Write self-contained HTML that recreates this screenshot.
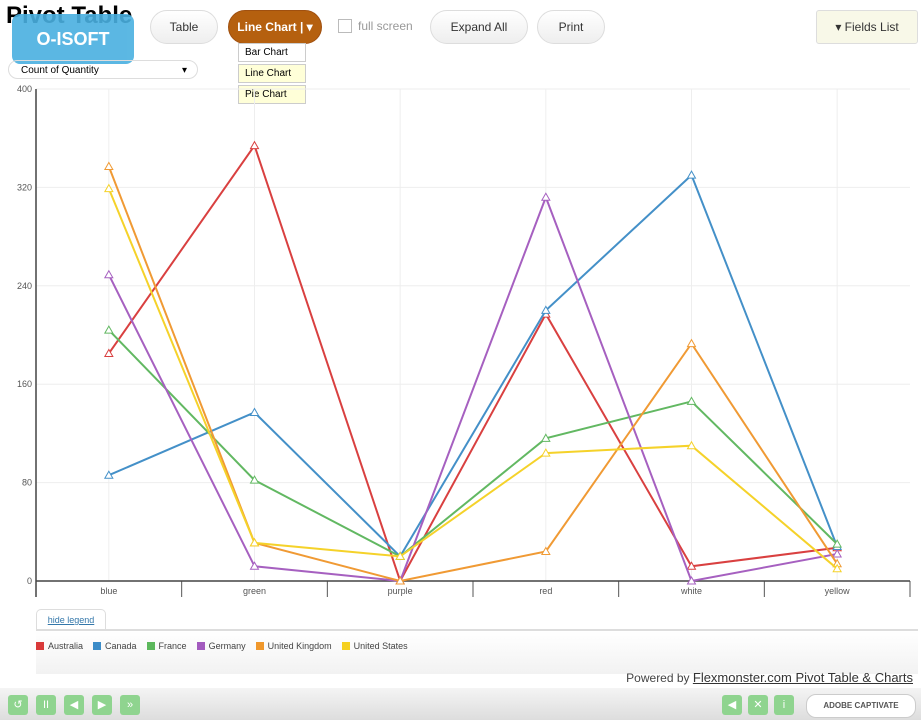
<!DOCTYPE html>
<html><head><meta charset="utf-8">
<style>
body{margin:0;width:921px;height:720px;overflow:hidden;background:#fff;font-family:"Liberation Sans",sans-serif;position:relative}
.abs{position:absolute}
.btn{position:absolute;top:10px;height:32px;border:1px solid #ddd;border-radius:17px;background:linear-gradient(#fff,#eee);font-size:12px;line-height:32px;text-align:center;color:#333}
.menu div{height:17px;line-height:17px;font-size:10px;padding-left:6px;border:1px solid #ccc;margin-bottom:2px;background:#fff}
.leg{display:inline-block;margin-right:10px;font-size:9px;color:#444}
.leg i{display:inline-block;width:8px;height:8px;margin-right:4px;vertical-align:-1px}
.cb{position:absolute;top:695px;width:20px;height:20px;background:#8fd48f;border-radius:3px;color:#fff;font-size:11px;text-align:center;line-height:20px}
</style></head><body>
<div class="abs" style="left:6px;top:2px;font-size:24px;font-weight:bold">Pivot Table</div>
<div class="abs" style="left:12px;top:14px;width:122px;height:50px;background:#4ab0e0;border-radius:8px;color:#fff;font-weight:bold;font-size:18px;text-align:center;line-height:50px;opacity:.9">O-ISOFT</div>
<div class="btn" style="left:150px;width:66px">Table</div>
<div class="btn" style="left:228px;width:92px;background:#b5600f;color:#fff;border-color:#a05010;font-weight:bold">Line Chart | ▾</div>
<div class="abs menu" style="left:238px;top:43px;width:68px">
<div>Bar Chart</div>
<div style="background:#ffffd8">Line Chart</div>
<div style="background:#ffffd8">Pie Chart</div></div>
<div class="abs" style="left:338px;top:19px;width:12px;height:12px;border:1px solid #bbb"></div>
<div class="abs" style="left:358px;top:19px;font-size:12px;color:#999">full screen</div>
<div class="btn" style="left:430px;width:96px">Expand All</div>
<div class="btn" style="left:537px;width:66px">Print</div>
<div class="btn" style="left:816px;width:100px;border-radius:3px;background:#f8f8e8">▾ Fields List</div>
<div class="abs" style="left:8px;top:60px;width:190px;height:19px;border:1px solid #ddd;border-radius:10px;font-size:10px;line-height:19px;padding-left:12px;box-sizing:border-box">Count of Quantity<span style="position:absolute;right:10px">▾</span></div>
<svg id="chart" class="abs" style="left:0;top:0" width="921" height="610"></svg>
<div class="abs" style="left:36px;top:609px;width:68px;height:20px;border:1px solid #ddd;border-bottom:none;border-radius:5px 5px 0 0;font-size:9px;color:#37a;text-decoration:underline;text-align:center;line-height:20px">hide legend</div>
<div class="abs" style="left:36px;top:629px;width:882px;height:38px;border-top:2px solid #ddd;background:linear-gradient(#fff,#f2f2f2);padding:5px 0 0 0">
<span class="leg"><i style="background:#d93a3a"></i>Australia</span><span class="leg"><i style="background:#3c8cc8"></i>Canada</span><span class="leg"><i style="background:#5cb85c"></i>France</span><span class="leg"><i style="background:#a35bbf"></i>Germany</span><span class="leg"><i style="background:#f0982c"></i>United Kingdom</span><span class="leg"><i style="background:#f5d020"></i>United States</span></div>
<div class="abs" style="right:8px;top:670px;font-size:12px;color:#444">Powered by <u style="color:#333;font-size:13px">Flexmonster.com Pivot Table &amp; Charts</u></div>
<div class="abs" style="left:0;top:688px;width:921px;height:32px;background:linear-gradient(#f4f4f4,#ddd)"></div>
<div class="cb" style="left:8px">↺</div>
<div class="cb" style="left:36px">II</div>
<div class="cb" style="left:64px">◀</div>
<div class="cb" style="left:92px">▶</div>
<div class="cb" style="left:120px">»</div>
<div class="cb" style="left:722px">◀</div>
<div class="cb" style="left:748px">✕</div>
<div class="cb" style="left:774px">i</div>
<div class="abs" style="left:806px;top:694px;width:108px;height:22px;border:1px solid #ccc;border-radius:10px;background:#fff;font-size:8px;line-height:22px;text-align:center;font-weight:bold;color:#555">ADOBE CAPTIVATE</div>
<script>
const categories=["blue","green","purple","red","white","yellow"];
const seriesNames=["Australia","Canada","France","Germany","United Kingdom","United States"];
const australia=[185,354,0,217,12,27];
const canada=[86,137,20,220,330,28];
const france=[204,82,20,116,146,30];
const germany=[249,12,0,312,0,22];
const unitedKingdom=[337,31,0,24,193,14];
const unitedStates=[319,31,20,104,110,10];
const yTicks=[0,80,160,240,320,400];
const allSeries=[australia,canada,france,germany,unitedKingdom,unitedStates];
const colors=["#d94040","#4490c8","#62b862","#a660c0","#f09a34","#f5d22a"];
const L=36,R=910,T=89,B=581,NS="http://www.w3.org/2000/svg";
const band=(R-L)/categories.length;
const x=i=>L+band*(i+0.5);
const y=v=>B-(v/400)*(B-T);
const svg=document.getElementById('chart');
function mk(t,a){const e=document.createElementNS(NS,t);for(const k in a)e.setAttribute(k,a[k]);svg.appendChild(e);return e;}
yTicks.forEach(t=>{
 const g=mk('line',{x1:L,x2:R,y1:y(t),y2:y(t),stroke:'#eee'});
 
 
 const tx=mk('text',{x:L-4,y:y(t)+3,'text-anchor':'end','font-size':9,fill:'#555'});tx.textContent=t;
 
 
});
categories.forEach((c,i)=>{
 const g=mk('line',{x1:x(i),x2:x(i),y1:T,y2:B,stroke:'#eee'});
 
 
 const tk=mk('line',{x1:L+band*(i+1),x2:L+band*(i+1),y1:B,y2:B+16,stroke:'#555'});
 
 
 const tx=mk('text',{x:x(i),y:B+13,'text-anchor':'middle','font-size':9,fill:'#555'});tx.textContent=c;
 
 
});
const ya=mk('line',{x1:L,x2:L,y1:T,y2:B+16,stroke:'#444','stroke-width':1.5});


const xa=mk('line',{x1:L,x2:R,y1:B,y2:B,stroke:'#444','stroke-width':1.5});


allSeries.forEach((s,si)=>{
 const p=mk('polyline',{points:s.map((v,i)=>x(i)+','+y(v)).join(' '),fill:'none',stroke:colors[si],'stroke-width':2});
 
 
 s.forEach((v,i)=>{
  const m=mk('path',{d:`M${x(i)},${y(v)-4}l4,7h-8z`,fill:'#fff',stroke:colors[si],'stroke-width':1});
  
  
 });
});
</script>
</body></html>
